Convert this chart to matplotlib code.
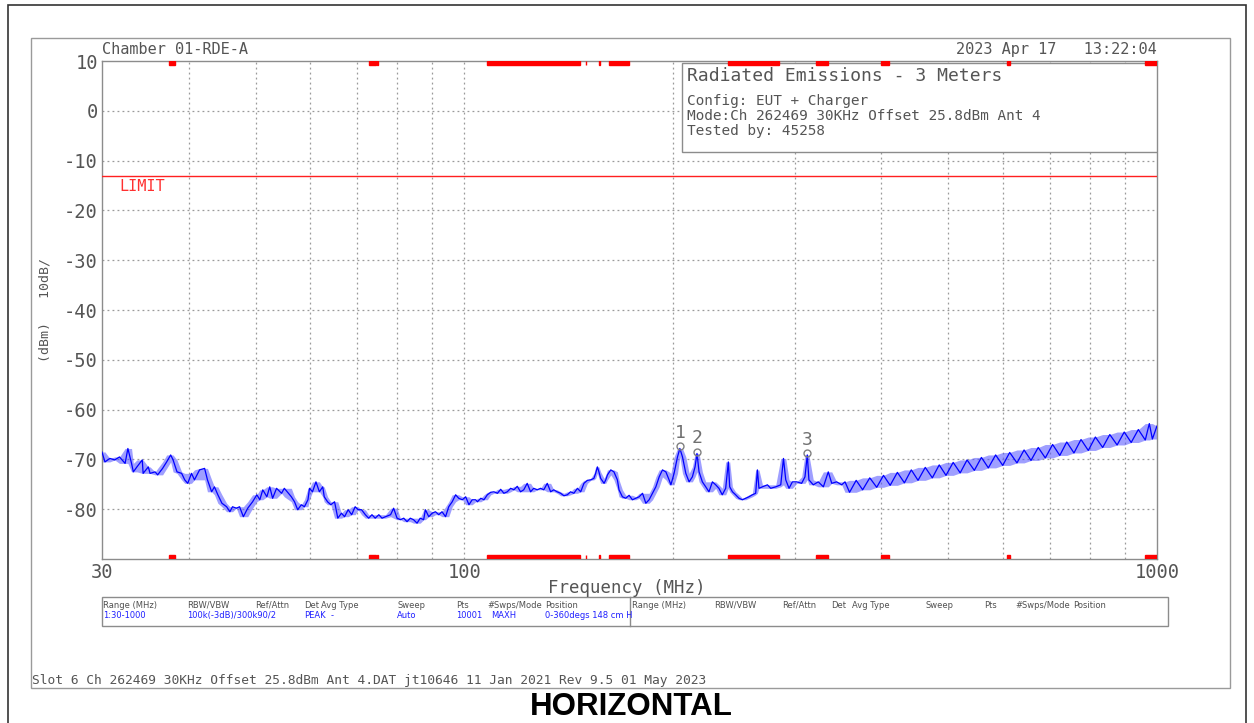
import numpy as np
import pandas as pd
import matplotlib
matplotlib.use("Agg")
import matplotlib.pyplot as plt
from matplotlib.patches import Rectangle
from matplotlib.ticker import FixedLocator, NullFormatter, NullLocator

# --- datos (MHz, dBm) ---
freq_mhz = [
    30.0, 30.3, 30.8, 31.3, 31.8, 32.4, 32.7, 33.1, 33.3, 33.7, 34.3, 34.4, 35.0, 35.2, 35.8, 36.1,
    36.7, 37.2, 37.7, 38.0, 38.5, 39.1, 39.5, 39.9, 40.4, 40.8, 41.5, 42.2, 42.6, 43.2, 43.6, 44.1,
    44.7, 45.4, 45.9, 46.3, 46.9, 47.4, 48.0, 48.7, 49.5, 50.2, 50.7, 51.2, 51.9, 52.4, 52.9, 53.6,
    54.5, 55.0,
    56.3, 56.9, 57.5, 58.2, 58.8, 59.5, 59.8, 60.4, 61.1, 61.8, 62.5, 62.8, 63.5, 64.2, 65.0, 65.7,
    66.5, 67.2, 68.0, 68.8, 69.6, 70.3, 71.1, 72.0, 72.8, 73.6, 74.4, 75.3, 76.1, 77.0, 78.3, 79.1,
    80.0, 80.9, 81.8, 82.7, 83.6, 84.5, 85.5, 86.4, 87.4, 87.9, 88.9, 89.9, 90.9, 91.9, 92.9, 94.0,
    95.0, 96.1, 97.2, 98.2, 99.4, 100.5, 101.6, 102.7, 103.9,
    104.5, 105.7, 106.8, 108.0, 109.2, 110.4, 111.7, 112.9, 114.1, 115.4, 116.7, 118.0, 119.3, 120.6,
    121.9, 123.3, 124.7, 126.0, 127.5, 128.9, 130.3, 131.8, 133.3, 134.7, 136.2, 137.8, 139.3, 140.9,
    142.4, 144.0, 145.7, 147.3, 148.9, 150.6, 152.3, 153.9, 154.8, 155.7, 156.5, 157.4, 159.2, 160.1,
    161.0, 162.8, 164.5, 166.4, 167.3, 169.2, 171.1, 173.0, 174.9, 176.9, 178.9, 180.9, 182.9, 184.9,
    187.0, 189.1, 191.2,
    193.3, 195.5, 197.6, 198.8, 200.9, 203.2, 204.8, 206.6, 208.9, 211.2, 213.5, 215.4, 216.8, 218.3,
    220.7, 223.2, 225.6, 228.2, 230.7, 233.2, 235.8, 238.5, 240.6, 241.7, 243.9, 246.5, 249.3, 252.1,
    254.9, 257.7, 260.6, 263.5, 265.0, 266.4, 269.5, 274.0, 277.0, 281.7, 286.4, 289.0, 291.2, 294.4,
    297.7, 302.0, 307.0, 310.4, 312.8, 314.5, 319.1, 324.4, 330.0, 335.4, 339.3, 344.9, 350.7, 354.6,
    360, 368, 376, 385, 394, 403, 412, 422, 432, 442, 452, 463, 474, 485, 496, 508, 520, 532, 545,
    558, 571, 585, 599, 613, 628, 643, 658, 674, 690, 707, 724, 741, 759, 777, 796, 815, 835, 855,
    876, 897, 918, 940, 962, 975, 985, 1000,
]
level_dbm = [
    -68.5, -70.5, -69.8, -70.1, -69.5, -70.8, -67.8, -70.8, -72.5, -71.5, -70.1, -72.8, -71.5, -72.8, -72.5, -73.1,
    -71.8, -70.5, -69.1, -70.1, -72.5, -72.8, -74.1, -74.8, -72.8, -74.1, -72.1, -71.8, -74.1, -76.5, -75.5, -77.1,
    -78.8, -79.5, -80.5, -79.5, -79.8, -79.5, -81.5, -79.8, -78.5, -77.1, -78.1, -76.1, -77.5, -75.5, -77.8, -75.8,
    -76.8, -75.8,
    -77.5, -78.5, -80.1, -79.1, -79.5, -78.1, -75.8, -76.5, -74.5, -76.5, -75.5, -77.5, -78.5, -79.1, -78.5, -81.8,
    -80.8, -81.5, -80.1, -81.1, -79.5, -80.1, -80.1, -81.1, -81.8, -81.1, -81.8, -81.1, -81.8, -81.5, -81.1, -79.8,
    -81.8, -82.1, -81.8, -82.5, -81.8, -82.1, -82.8, -81.8, -82.1, -80.1, -81.5, -80.8, -80.5, -81.1, -80.5, -81.5,
    -79.5, -78.5, -77.1, -77.8, -78.1, -77.5, -79.1, -78.1, -78.1,
    -78.5, -77.8, -78.1, -77.1, -76.6, -76.5, -76.8, -76.0, -76.8, -76.5, -75.8, -76.1, -75.4, -76.5,
    -76.1, -74.8, -76.5, -75.8, -76.1, -75.8, -76.1, -74.8, -76.5, -76.1, -76.5, -76.8, -77.3, -77.1,
    -76.5, -76.8, -75.8, -76.5, -74.8, -74.2, -74.1, -73.8, -72.8, -71.5, -72.5, -73.8, -74.8, -74.1,
    -73.1, -72.1, -72.5, -74.1, -76.1, -77.5, -77.8, -77.2, -78.1, -77.8, -77.5, -76.8, -78.8, -78.1,
    -76.8, -75.5, -73.5,
    -72.1, -72.5, -74.1, -75.1, -72.8, -69.5, -67.8, -69.5, -72.8, -74.5, -73.5, -71.5, -68.8, -72.5,
    -74.5, -75.5, -76.5, -74.5, -75.1, -75.8, -77.1, -75.8, -70.5, -75.5, -76.5, -77.1, -77.8, -78.1,
    -77.8, -77.5, -77.1, -76.8, -72.1, -75.8, -75.5, -75.1, -75.8, -75.5, -75.1, -69.8, -74.1, -75.8,
    -74.5, -74.5, -74.8, -73.5, -69.1, -74.1, -75.1, -74.5, -75.5, -72.5, -74.8, -74.5, -75.1, -74.5,
    -76.6, -74.2, -76.1, -73.7, -75.6, -73.2, -75.2, -72.6, -74.7, -72.1, -74.2, -71.6, -73.7, -71.1, -73.2,
    -70.6, -72.7, -70.1, -72.2, -69.6, -71.7, -69.1, -71.2, -68.6, -70.7, -68.1, -70.2, -67.6, -69.7, -67.0,
    -69.2, -66.5, -68.7, -66.0, -68.2, -65.5, -67.6, -65.0, -67.1, -64.5, -66.6, -64.0, -66.1, -62.8, -65.9,
    -63.3,
]

marker_ids = ["1", "2", "3"]
marker_freq = [204.8, 216.8, 312.8]
marker_level = [-67.4, -68.5, -68.8]

limit_dbm = -13.0

# bandas restringidas (marcas rojas arriba/abajo)
bandas = [(37.5, 38.25), (73.0, 74.6), (74.8, 75.2), (108.0, 147.0), (149.9, 150.05),
          (156.52, 156.9), (162.01, 173.2), (240.0, 285.0), (322.0, 335.4), (399.9, 410.0),
          (608.0, 614.0), (960.0, 1000.0)]

y_ticks = [10, 0, -10, -20, -30, -40, -50, -60, -70, -80]
x_ticks = [30, 100, 1000]
x_grid = [40, 50, 60, 70, 80, 90, 200, 300, 400, 500, 600, 700, 800, 900]

gris = "#555555"
linea = "#8c8c8c"
mono = "DejaVu Sans Mono"

fig = plt.figure(figsize=(12.54, 7.23), dpi=100)
ax = fig.add_axes([0.0813, 0.2268, 0.8413, 0.6888])
ax.set_xscale("log")
ax.set_xlim(30, 1000)
ax.set_ylim(-90, 10)

# rejilla punteada
for v in y_ticks[1:]:
    ax.axhline(v, color="#9a9a9a", ls=(0, (1.5, 2.5)), lw=0.9, zorder=1)
for f in x_grid + [100]:
    ax.axvline(f, color="#9a9a9a", ls=(0, (1.5, 2.5)), lw=0.9, zorder=1)

# traza (banda de ruido + linea)
s = pd.Series(level_dbm)
hi = s.rolling(3, center=True, min_periods=1).max()
lo = s.rolling(3, center=True, min_periods=1).min()
ax.fill_between(freq_mhz, lo, hi, color="#5050ff", alpha=0.55, lw=0, zorder=2)
ax.plot(freq_mhz, level_dbm, color="#0000ff", lw=0.9, zorder=3)

# limite
ax.axhline(limit_dbm, color="#ff2020", lw=1.0, zorder=3)
ax.text(31.8, -15.1, "LIMIT", color="#ff3030", fontsize=11, family=mono, va="center", zorder=4)

# marcadores
for m, f, l in zip(marker_ids, marker_freq, marker_level):
    ax.plot(f, l, marker="o", ms=5, mfc="none", mec="#808080", mew=1.0, zorder=5)
    ax.text(f, l + 0.9, m, color="#707070", fontsize=13, family=mono, ha="center", va="bottom", zorder=5)

# caja de leyenda
ax.add_patch(Rectangle((0.5498, 0.8173), 0.4502, 0.178, transform=ax.transAxes,
                       facecolor="white", edgecolor=linea, lw=1.0, zorder=6))

# bandas rojas
for a, b in bandas:
    ax.axvspan(a, b, ymin=0.0, ymax=0.008, color="#ff0000", lw=1, zorder=7)
    ax.axvspan(a, b, ymin=0.992, ymax=1.0, color="#ff0000", lw=1, zorder=7)

for sp in ax.spines.values():
    sp.set_color(linea)
    sp.set_linewidth(1.0)

ax.xaxis.set_major_locator(FixedLocator(x_ticks))
ax.xaxis.set_minor_locator(NullLocator())
ax.xaxis.set_minor_formatter(NullFormatter())
ax.set_xticklabels([str(t) for t in x_ticks])
ax.set_yticks(y_ticks)
ax.set_yticklabels([str(t) for t in y_ticks])
ax.tick_params(length=0, labelsize=13.5, labelcolor=gris, pad=3)
for t in ax.get_xticklabels() + ax.get_yticklabels():
    t.set_family(mono)

# textos
fig.text(0.0813, 0.9322, "Chamber 01-RDE-A", family=mono, fontsize=11, color=gris, va="center")
fig.text(0.9226, 0.9322, "2023 Apr 17   13:22:04", family=mono, fontsize=11, color=gris,
         va="center", ha="right")
fig.text(0.5478, 0.8949, "Radiated Emissions - 3 Meters", family=mono, fontsize=13, color=gris,
         va="center", zorder=8)
fig.text(0.5478, 0.8603, "Config: EUT + Charger", family=mono, fontsize=10.4, color=gris, va="center")
fig.text(0.5478, 0.8396, "Mode:Ch 262469 30KHz Offset 25.8dBm Ant 4", family=mono, fontsize=10.4,
         color=gris, va="center")
fig.text(0.5478, 0.8188, "Tested by: 45258", family=mono, fontsize=10.4, color=gris, va="center")
fig.text(0.5, 0.1867, "Frequency (MHz)", family=mono, fontsize=12.5, color=gris, ha="center", va="center")
fig.text(0.0359, 0.5712, "(dBm)   10dB/", family=mono, fontsize=9.5, color=gris, rotation=90,
         ha="center", va="center")

# tabla de parametros
fig.patches.append(Rectangle((0.0813, 0.1342), 0.8501, 0.0401, transform=fig.transFigure,
                             facecolor="none", edgecolor=linea, lw=1.0))
fig.lines.append(plt.Line2D([0.5024, 0.5024], [0.1342, 0.1743], transform=fig.transFigure,
                            color=linea, lw=1.0))
cab = ["Range (MHz)", "RBW/VBW", "Ref/Attn", "Det", "Avg Type", "Sweep", "Pts", "#Swps/Mode", "Position"]
cab_x = [103, 187, 255, 304, 321, 397, 456, 487, 545]
cab_x2 = [632, 714, 782, 831, 852, 926, 984, 1015, 1073]
val = ["1:30-1000", "100k(-3dB)/300k90/2", "PEAK", "-", "Auto", "10001", "MAXH", "0-360degs 148 cm H"]
val_x = [103, 187, 304, 331, 397, 456, 491, 545]
for t, x in zip(cab, cab_x):
    fig.text(x / 1254, 0.1632, t, fontsize=6, color="#505050", va="center")
for t, x in zip(cab, cab_x2):
    fig.text(x / 1254, 0.1632, t, fontsize=6, color="#505050", va="center")
for t, x in zip(val, val_x):
    fig.text(x / 1254, 0.1480, t, fontsize=6, color="#2020ff", va="center")

fig.text(0.0255, 0.0581, "Slot 6 Ch 262469 30KHz Offset 25.8dBm Ant 4.DAT jt10646 11 Jan 2021 Rev 9.5 01 May 2023",
         family=mono, fontsize=9.3, color=gris, va="center")
fig.text(0.5032, 0.0221, "HORIZONTAL", family="Liberation Sans", fontweight="bold", fontsize=22.5,
         color="black", ha="center", va="center")

# marcos
fig.patches.append(Rectangle((0.0247, 0.0484), 0.9562, 0.899, transform=fig.transFigure,
                             facecolor="none", edgecolor="#9a9a9a", lw=1.0))
fig.patches.append(Rectangle((0.0064, -0.01), 0.9872, 1.003, transform=fig.transFigure,
                             facecolor="none", edgecolor="#333333", lw=1.2))

fig.savefig("out.png", dpi=100)
